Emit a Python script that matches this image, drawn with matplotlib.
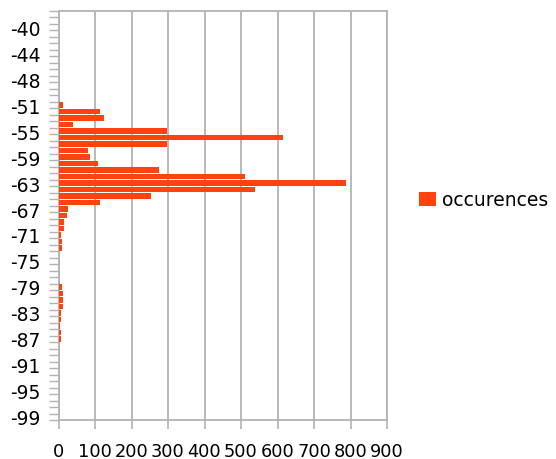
import numpy as np
import matplotlib
matplotlib.use("Agg")
import matplotlib.pyplot as plt
from matplotlib.patches import Patch

# Signal level categories (dBm), top to bottom
categories = (["-38", "-39"] + [str(v) for v in range(-40, -49, -1)]
              + ["-49", "-49.5", "-50"] + [str(v) for v in range(-51, -100, -1)])

# Number of occurences per category
occurences = [
    0, 0, 0, 0, 0, 0, 0, 0, 0, 0, 0, 0, 0, 0,          # -38 .. -50
    13, 114, 126, 41, 297, 616, 297, 82, 87, 109,       # -51 .. -60
    276, 510, 789, 538, 254, 114, 27, 22, 16, 14,       # -61 .. -70
    8, 9, 9, 0, 0, 0, 0, 0, 9, 13,                      # -71 .. -80
    13, 13, 8, 6, 5, 6, 8, 0, 0, 0,                     # -81 .. -90
    0, 0, 0, 0, 0, 0, 0, 0, 0,                          # -91 .. -99
]

# Every fourth category carries a label
label_every = 4
label_start = 2

x_ticks = list(range(0, 1000, 100))
series_name = "occurences"

BAR = "#ff420e"
GRID = "#b3b3b3"

plt.rcParams["font.family"] = ["DejaVu Sans"]
fs = 13.5

fig = plt.figure(figsize=(5.56, 4.60), dpi=100)
ax = fig.add_axes([58.5 / 556, 39 / 460, 328.5 / 556, 409 / 460])

pos = np.arange(len(categories))
ax.barh(pos, occurences, height=0.85, color=BAR, zorder=3)

ax.set_xlim(0, 900)
ax.set_ylim(len(categories) - 0.5, -0.5)

# x axis: gridlines at every hundred, ticks pointing out
ax.set_xticks(x_ticks)
ax.set_xticklabels([str(t) for t in x_ticks], fontsize=12.8)
ax.xaxis.grid(True, color=GRID, linewidth=1.3, zorder=0)
ax.tick_params(axis="x", direction="out", length=6.5, width=1.2,
               color=GRID, pad=9.5, labelcolor="#000000")

# y axis: ticks at category boundaries, labels on selected categories
ax.set_yticks(np.arange(len(categories) + 1) - 0.5)
ax.set_yticklabels([])
ax.tick_params(axis="y", which="major", direction="out", length=7,
               width=1.0, color=GRID)
lab_pos = pos[label_start::label_every]
ax.set_yticks(lab_pos, minor=True)
ax.set_yticklabels([categories[i] for i in lab_pos], minor=True, fontsize=fs)
ax.tick_params(axis="y", which="minor", length=0, pad=13)

for s in ax.spines.values():
    s.set_color(GRID)
    s.set_linewidth(1.3)

fig.legend(handles=[Patch(facecolor=BAR, edgecolor="none", label=series_name)],
           loc="center left", bbox_to_anchor=(419 / 556, 1 - 201 / 460),
           frameon=False, fontsize=fs, handlelength=0.9, handleheight=0.85,
           handletextpad=0.35, borderpad=0, borderaxespad=0)

fig.savefig("out.png", dpi=100, facecolor="white")
